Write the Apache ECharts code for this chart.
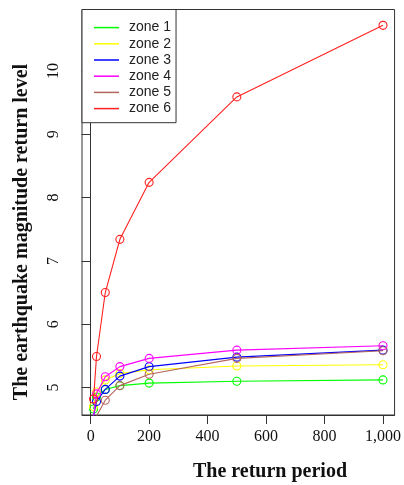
<!DOCTYPE html>
<html><head><meta charset="utf-8">
<script src="https://cdn.jsdelivr.net/npm/echarts@6/dist/echarts.min.js"></script>
<style>html,body{margin:0;padding:0;background:#fff}#c{width:404px;height:485px}</style>
</head><body><div id="c"></div>
<script>
const periods = [10, 20, 50, 100, 200, 500, 1000];
const zoneNames = ['zone 1', 'zone 2', 'zone 3', 'zone 4', 'zone 5', 'zone 6'];
const zone1 = [4.66, 4.85, 4.97, 5.03, 5.07, 5.10, 5.12];
const zone2 = [4.70, 4.93, 5.12, 5.22, 5.28, 5.34, 5.36];
const zone3 = [4.55, 4.78, 4.97, 5.18, 5.33, 5.48, 5.59];
const zone4 = [4.55, 4.90, 5.17, 5.33, 5.46, 5.59, 5.66];
const zone5 = [4.30, 4.55, 4.80, 5.03, 5.21, 5.46, 5.58];
const zone6 = [4.82, 5.49, 6.50, 7.34, 8.24, 9.59, 10.72];
const xTicks = [0, 200, 400, 600, 800, 1000];
const yTicks = [5, 6, 7, 8, 9, 10];
const colors = ['#00ff00', '#ffff00', '#0000ff', '#ff00ff', '#b5655f', '#ff2020'];

const zones = [zone1, zone2, zone3, zone4, zone5, zone6];
const series = zones.map((vals, i) => ({
  name: zoneNames[i],
  type: 'line',
  data: periods.map((p, j) => [p, vals[j]]),
  symbol: 'circle',
  symbolSize: 8,
  clip: true,
  lineStyle: { color: colors[i], width: 1.1 },
  itemStyle: { color: 'rgba(255,255,255,0)', borderColor: colors[i], borderWidth: 1.1 },
  emphasis: { disabled: true },
  z: 2 + i
}));

const chart = echarts.init(document.getElementById('c'));
chart.setOption({
  animation: false,
  backgroundColor: '#fff',
  grid: { left: 82, right: 3.5, top: 9.5, bottom: 70, show: true, borderColor: '#333', borderWidth: 1, backgroundColor: 'transparent' },
  xAxis: {
    type: 'value', min: -29.6, max: 1039.6,
    splitLine: { show: false },
    axisLine: { show: true, lineStyle: { color: '#333' } },
    axisTick: { show: true, length: 9, lineStyle: { color: '#333' }, customValues: xTicks },
    axisLabel: { customValues: xTicks, margin: 14, color: '#111', fontFamily: 'Liberation Serif', fontSize: 16,
      formatter: v => v.toLocaleString('en-US') }
  },
  yAxis: {
    type: 'value', min: 4.566, max: 10.97,
    splitLine: { show: false },
    axisLine: { show: true, lineStyle: { color: '#333' } },
    axisTick: { show: true, length: 9, lineStyle: { color: '#333' }, customValues: yTicks },
    axisLabel: { customValues: yTicks, rotate: 90, margin: 20, color: '#111', fontFamily: 'Liberation Serif', fontSize: 16 }
  },
  legend: {
    orient: 'vertical', left: 82, top: 9.5,
    data: zoneNames.map((n, i) => ({ name: n, itemStyle: { color: colors[i], borderWidth: 0 } })),
    padding: [10, 5, 6, 12],
    backgroundColor: '#fff',
    borderColor: '#333', borderWidth: 1,
    icon: 'rect', itemWidth: 25, itemHeight: 1.5, itemGap: 0,
    itemStyle: { borderWidth: 0 },
    textStyle: { fontFamily: 'Liberation Sans', fontSize: 14, color: '#222', lineHeight: 16.2, padding: [0, 0, 0, 5] },
    z: 20
  },
  graphic: [
    { type: 'text', x: 270, y: 472, z: 10,
      style: { text: 'The return period', font: 'bold 20px "Liberation Serif"', fill: '#111', align: 'center', verticalAlign: 'middle' } },
    { type: 'text', x: 22, y: 232, rotation: Math.PI / 2, z: 10,
      style: { text: 'The earthquake magnitude return level', font: 'bold 20px "Liberation Serif"', fill: '#111', align: 'center', verticalAlign: 'middle' } }
  ],
  series: series
});
</script></body></html>
